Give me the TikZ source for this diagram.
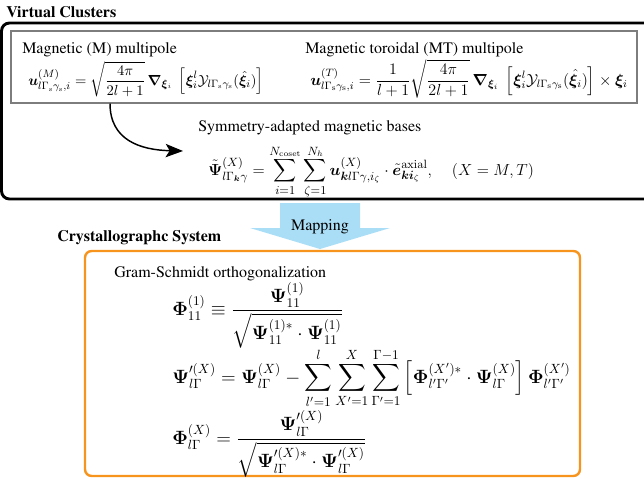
\documentclass[tikz,border=0pt]{standalone}
\usepackage[T1]{fontenc}
\renewcommand{\rmdefault}{ptm}
\usepackage{amsmath}
\usepackage{bm}
\usetikzlibrary{arrows.meta}
\definecolor{mapblue}{RGB}{170,222,246}
\definecolor{boxorange}{RGB}{247,148,29}
\definecolor{boxgray}{RGB}{125,125,125}
\tikzset{
  head/.style={anchor=base west, inner sep=0pt, font=\fontsize{12}{14}\selectfont\bfseries},
  lbl/.style={anchor=base west, inner sep=0pt, font=\fontsize{12}{14}\selectfont},
  eqna/.style={anchor=base west, inner sep=0pt, font=\fontsize{11}{14}\selectfont},
  eqn/.style={anchor=base west, inner sep=0pt, font=\fontsize{12}{14}\selectfont},
  eqnb/.style={anchor=base west, inner sep=0pt, font=\fontsize{13}{16}\selectfont},
  eqnl/.style={anchor=base west, inner sep=0pt, font=\fontsize{14}{17}\selectfont},
  outerbox/.style={draw=black, line width=2.2pt, rounded corners=6pt},
  innerbox/.style={draw=boxgray, line width=1pt},
  orangebox/.style={draw=boxorange, line width=1.8pt, rounded corners=5pt},
  maparrow/.style={fill=mapblue, draw=none},
  curvearrow/.style={draw=black, line width=1.1pt, -{Stealth[length=13pt, width=10pt, inset=3pt]}}
}
\begin{document}
\begin{tikzpicture}[x=0.75pt, y=-0.75pt]
\useasboundingbox (0,0) rectangle (644,479);
\begin{scope}
\clip (0,0) rectangle (644,479);
\draw[outerbox] (1.5,23) rectangle (700,199);
\end{scope}
\draw[innerbox] (11,31) rectangle (637,103);
\node[head] (vc) at (6,17) {Virtual Clusters};
\node[lbl] (mm) at (22,53) {Magnetic (M) multipole};
\node[lbl] (mt) at (305,53) {Magnetic toroidal (MT) multipole};
\node[eqna] (eqm) at (28,85) {$\displaystyle \bm{u}^{(M)}_{l\Gamma_{\mathrm{s}}\gamma_{\mathrm{s}},i} = \sqrt{\frac{4\pi}{2l+1}}\,\bm{\nabla}_{\bm{\xi}_i}\;\left[\bm{\xi}_i^l\mathcal{Y}_{l\Gamma_{\mathrm{s}}\gamma_{\mathrm{s}}}(\hat{\bm{\xi}}_i)\right]$};
\node[eqn] (eqt) at (310,85) {$\displaystyle \bm{u}^{(T)}_{l\Gamma_{\mathrm{s}}\gamma_{\mathrm{s}},i} = \frac{1}{l+1}\sqrt{\frac{4\pi}{2l+1}}\,\bm{\nabla}_{\bm{\xi}_i}\;\left[\bm{\xi}_i^l\mathcal{Y}_{l\Gamma_{\mathrm{s}}\gamma_{\mathrm{s}}}(\hat{\bm{\xi}}_i)\right]\times\bm{\xi}_i$};
\node[lbl] (sab) at (198,131) {Symmetry-adapted magnetic bases};
\node[eqnb] (eqs) at (208,175) {$\displaystyle \tilde{\bm{\Psi}}^{(X)}_{l\Gamma_{\bm{k}}\gamma} = \sum_{i=1}^{N_{\mathrm{coset}}}\sum_{\zeta=1}^{N_h}\bm{u}^{(X)}_{\bm{k}l\Gamma\gamma,i_\zeta}\cdot\tilde{\bm{e}}^{\mathrm{axial}}_{\bm{k}\bm{i}_\zeta},\quad (X=M,T)$};
\coordinate (arrS) at (110,103.5);
\coordinate (arrE) at (183,151);
\draw[curvearrow] (arrS) .. controls (110,140) and (140,150) .. (arrE);
\path[maparrow] (280,203) -- (360,203) -- (360,228) -- (390,228) -- (320,249) -- (250,228) -- (280,228) -- cycle;
\node[anchor=base, inner sep=0pt, font=\fontsize{12}{14}\selectfont] (map) at (320,230) {Mapping};
\node[head] (cs) at (57,241) {Crystallographc System};
\draw[orangebox] (85,251) rectangle (580,476);
\node[lbl] (gs) at (114,277) {Gram-Schmidt orthogonalization};
\node[eqnl] (g1) at (172,315) {$\displaystyle \bm{\Phi}^{(1)}_{11} \equiv \frac{\bm{\Psi}^{(1)}_{11}}{\sqrt{\bm{\Psi}^{(1)*}_{11}\cdot\bm{\Psi}^{(1)}_{11}}}$};
\node[eqnl] (g2) at (172,383) {$\displaystyle \bm{\Psi}^{\prime(X)}_{l\Gamma} = \bm{\Psi}^{(X)}_{l\Gamma} - \sum_{l'=1}^{l}\sum_{X'=1}^{X}\sum_{\Gamma'=1}^{\Gamma-1}\left[\bm{\Phi}^{(X')*}_{l'\Gamma'}\cdot\bm{\Psi}^{(X)}_{l\Gamma}\right]\bm{\Phi}^{(X')}_{l'\Gamma'}$};
\node[eqnl] (g3) at (172,444) {$\displaystyle \bm{\Phi}^{(X)}_{l\Gamma} = \frac{\bm{\Psi}^{\prime(X)}_{l\Gamma}}{\sqrt{\bm{\Psi}^{\prime(X)*}_{l\Gamma}\cdot\bm{\Psi}^{\prime(X)}_{l\Gamma}}}$};
\end{tikzpicture}
\end{document}
